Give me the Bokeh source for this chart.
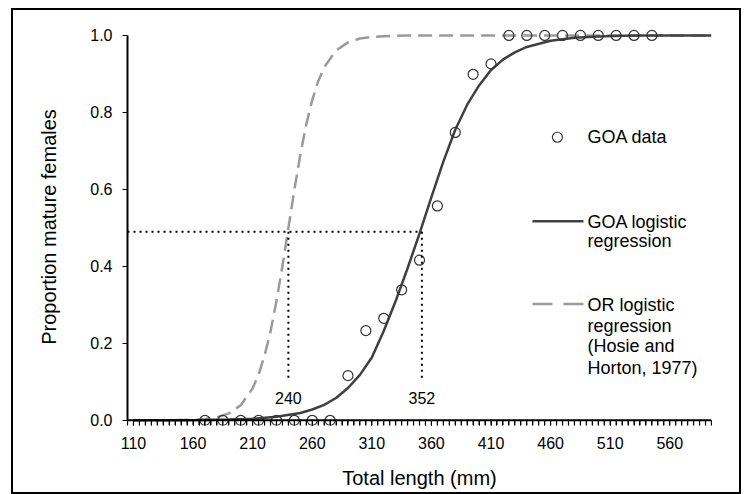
from bokeh.plotting import figure
from bokeh.models import Range1d, FixedTicker, Label, PrintfTickFormatter, Span
from bokeh.core.properties import value
from bokeh.embed import file_html
from bokeh.resources import INLINE

# ---- data ----
length_mm = [170, 185, 200, 215, 230, 245, 260, 275, 290, 305, 320, 335, 350,
             365, 380, 395, 410, 425, 440, 455, 470, 485, 500, 515, 530, 545]
goa_prop = [0, 0, 0, 0, 0, 0, 0, 0, 0.116, 0.233, 0.265, 0.339, 0.416,
            0.557, 0.748, 0.899, 0.926, 1, 1, 1, 1, 1, 1, 1, 1, 1]

goa_fit_len = [110, 130, 150, 170, 190, 210, 230, 250, 260, 270, 280, 290, 300,
               310, 320, 330, 340, 350, 360, 370, 380, 390, 400, 410, 420, 430,
               440, 460, 480, 500, 520, 540, 560, 595]
goa_fit_prop = [0.0001, 0.0002, 0.0004, 0.0009, 0.0019, 0.004, 0.009, 0.019, 0.028,
                0.040, 0.058, 0.084, 0.118, 0.163, 0.232, 0.31, 0.395, 0.485, 0.58,
                0.672, 0.755, 0.82, 0.87, 0.91, 0.937, 0.956, 0.97, 0.986, 0.994,
                0.997, 0.999, 1.0, 1.0, 1.0]

or_fit_len = [110, 130, 150, 160, 170, 180, 190, 200, 210, 215, 220, 225, 230, 235,
              240, 245, 250, 255, 260, 265, 270, 280, 290, 300, 310, 320, 340, 400, 595]
or_fit_prop = [0.0, 0.0002, 0.0007, 0.0017, 0.0037, 0.008, 0.018, 0.039, 0.083, 0.119,
               0.168, 0.231, 0.31, 0.401, 0.5, 0.599, 0.69, 0.769, 0.832, 0.881, 0.917,
               0.961, 0.982, 0.992, 0.996, 0.998, 1.0, 1.0, 1.0]

l50_len = [240, 352]
l50_labels = ["240", "352"]
l50_prop = 0.49
l50_low = 0.10

x_ticks = [110, 160, 210, 260, 310, 360, 410, 460, 510, 560]
x_minor_ticks = list(range(105, 596, 5))
y_ticks = [0.0, 0.2, 0.4, 0.6, 0.8, 1.0]

FONT = "Liberation Sans"
TICK_LEN = 0.0135   # tick length below the x axis, in y units (~5 px)

p = figure(width=726, height=482, x_range=Range1d(105, 595), y_range=Range1d(-TICK_LEN, 1.018),
           output_backend="svg", toolbar_location=None,
           min_border_left=114, min_border_right=28, min_border_top=18, min_border_bottom=67)
p.margin = (10, 0, 0, 13)
p.styles = {"outline": "2px solid black", "outline-offset": "0px"}
p.grid.visible = False
p.outline_line_color = None
p.background_fill_color = "white"
p.border_fill_color = "white"

# curves
p.line(or_fit_len, or_fit_prop, line_color="#9a9a9a", line_width=2.5, line_dash="14 7")
p.line(goa_fit_len, goa_fit_prop, line_color="#404040", line_width=2.5)

# data points
p.scatter(length_mm, goa_prop, marker="circle", size=10, fill_color=None,
          line_color="#333333", line_width=1.2)

# L50 reference lines
p.segment(x0=[p.x_range.start], y0=[l50_prop], x1=[l50_len[1]], y1=[l50_prop],
          line_color="black", line_width=2, line_dash="2 4")
p.segment(x0=l50_len, y0=[l50_prop] * 2, x1=l50_len, y1=[l50_low] * 2,
          line_color="black", line_width=2, line_dash="2 4")
p.text(x=l50_len, y=[l50_low - 0.043] * 2, text=l50_labels, text_align="center",
       text_baseline="middle", text_font=value(FONT), text_font_size="16px", text_color="black")

# manual legend
p.scatter([465.7], [0.7355], marker="circle", size=10, fill_color=None,
          line_color="#333333", line_width=1.2)
p.line([444.8, 487.6], [0.517, 0.517], line_color="#404040", line_width=2.5)
p.line([444.8, 487.6], [0.302, 0.302], line_color="#9a9a9a", line_width=2.5, line_dash="20 11")
legend_lines = [("GOA data", 0.7355), ("GOA logistic", 0.516), ("regression", 0.465),
                ("OR logistic", 0.2996), ("regression", 0.246), ("(Hosie and", 0.194),
                ("Horton, 1977)", 0.136)]
for txt, yy in legend_lines:
    p.add_layout(Label(x=490.9, y=yy, text=txt, text_align="left", text_baseline="middle",
                       text_font=FONT, text_font_size="18px", text_color="black"))

# x axis line drawn at y = 0, with its tick marks hanging below it
p.add_layout(Span(location=0, dimension="width", line_color="black", line_width=2))
p.segment(x0=x_minor_ticks, y0=[0] * len(x_minor_ticks), x1=x_minor_ticks,
          y1=[-TICK_LEN] * len(x_minor_ticks), line_color="black", line_width=1.2)

# axes
xa = p.xaxis[0]
xa.ticker = FixedTicker(ticks=x_ticks, minor_ticks=x_minor_ticks)
xa.axis_line_color = None
xa.major_tick_in = 5
xa.major_tick_out = 0
xa.minor_tick_in = 5
xa.minor_tick_out = 0
xa.major_tick_line_color = "black"
xa.minor_tick_line_color = "black"
xa.major_label_text_font = FONT
xa.major_label_text_font_size = "16px"
xa.major_label_text_color = "black"
xa.major_label_standoff = 11
xa.axis_label = "Total length (mm)"
xa.axis_label_text_font = FONT
xa.axis_label_text_font_size = "20px"
xa.axis_label_text_font_style = "normal"
xa.axis_label_text_color = "black"
xa.axis_label_standoff = 15

ya = p.yaxis[0]
ya.ticker = FixedTicker(ticks=y_ticks)
ya.formatter = PrintfTickFormatter(format="%.1f")
ya.bounds = (0, 1)
ya.axis_line_width = 2
ya.axis_line_color = "black"
ya.major_tick_out = 5
ya.major_tick_in = 0
ya.minor_tick_line_color = None
ya.major_tick_line_color = "black"
ya.major_label_text_font = FONT
ya.major_label_text_font_size = "16px"
ya.major_label_text_color = "black"
ya.major_label_standoff = 10
ya.axis_label = "Proportion mature females"
ya.axis_label_text_font = FONT
ya.axis_label_text_font_size = "20px"
ya.axis_label_text_font_style = "normal"
ya.axis_label_text_color = "black"
ya.axis_label_standoff = 27

open("out.html", "w").write(file_html(p, INLINE))
